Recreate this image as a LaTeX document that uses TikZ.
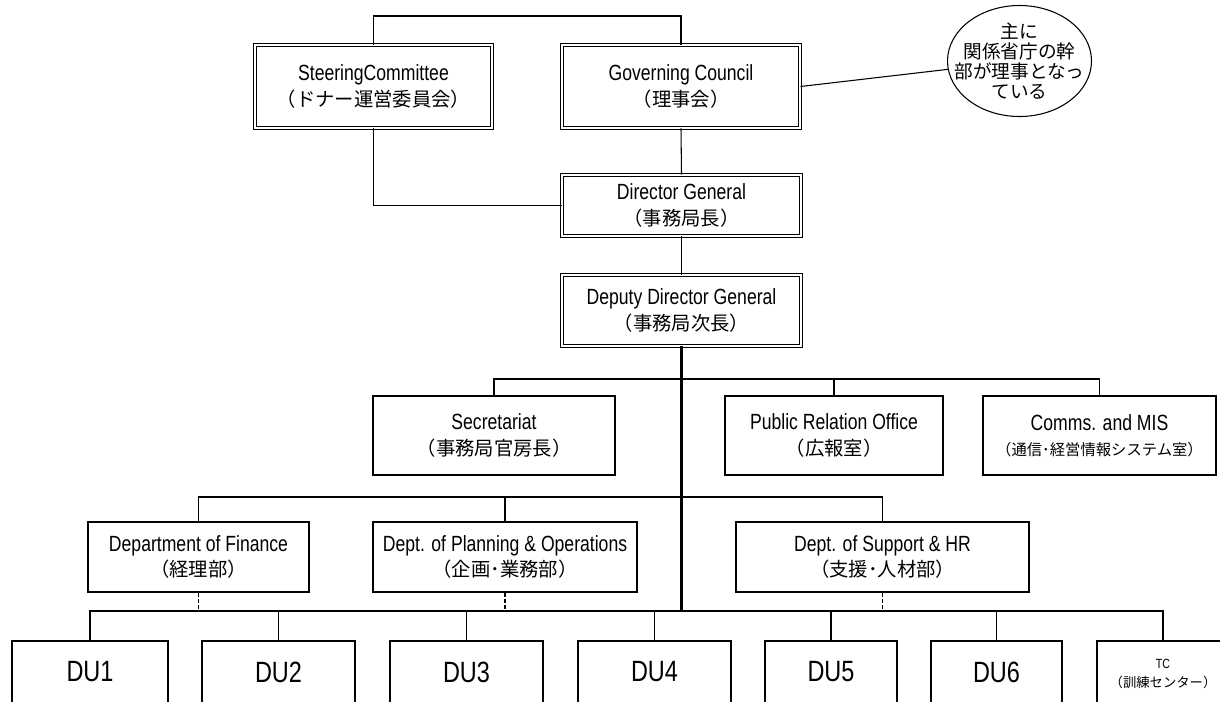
\documentclass[tikz,border=0pt]{standalone}
\usepackage{fontspec}
\setmainfont{Liberation Sans}[FakeStretch=0.8]
\newfontfamily\jp{Noto Sans CJK JP}
\usetikzlibrary{shapes.geometric}
\newcommand\jpt[1]{{\jp\fontsize{14.5}{19}\selectfont #1}}
\tikzset{
  conn/.style={line width=0.8pt},
  trunk/.style={line width=1.6pt},
  dashconn/.style={line width=0.8pt, dash pattern=on 3pt off 1.5pt},
  dbox/.style={draw, double, double distance=1.5pt, line width=0.7pt, inner sep=0pt, align=center,
    font=\fontsize{16.5}{19}\selectfont},
  sbox/.style={draw, line width=0.8pt, inner sep=0pt, align=center,
    font=\fontsize{16.5}{19}\selectfont},
  dubox/.style={draw, line width=0.8pt, inner sep=0pt, minimum height=75pt},
  dulabel/.style={label={[yshift=14.25pt, font=\fontsize{22}{26}\selectfont]center:#1}},
}
\begin{document}
\begin{tikzpicture}[x=0.75pt, y=-0.75pt]
\useasboundingbox (0,0) rectangle (1220,701);
\clip (0,0) rectangle (1220,701);

% top level
\node[dbox, minimum width=177.75pt, minimum height=62.25pt] (sc) at (373.5,86.5)
  {SteeringCommittee\\\jpt{（ドナー運営委員会）}};
\node[dbox, minimum width=178.5pt, minimum height=62.25pt] (gc) at (681,86.5)
  {Governing Council\\\jpt{（理事会）}};
\node[draw, ellipse, line width=0.8pt, inner sep=0pt, minimum width=108pt, minimum height=83.25pt] (note) at (1019.5,61) {};
\node[align=center, inner sep=0pt, font=\jp\fontsize{14}{14.8}\selectfont] (notetext) at (1019.5,61)
  {主に\\関係省庁の幹\\部が理事となっ\\ている};

\node[dbox, minimum width=179.25pt, minimum height=45.75pt] (dg) at (681.5,205.5)
  {Director General\\\jpt{（事務局長）}};
\node[dbox, minimum width=179.25pt, minimum height=53.25pt] (ddg) at (681.5,310.5)
  {Deputy Director General\\\jpt{（事務局次長）}};

% staff level
\node[sbox, minimum width=181.5pt, minimum height=59.25pt] (sec) at (494,435.5)
  {Secretariat\\\jpt{（事務局官房長）}};
\node[sbox, minimum width=163.5pt, minimum height=59.25pt] (pr) at (834,435.5)
  {Public Relation Office\\\jpt{（広報室）}};
\node[sbox, minimum width=174.75pt, minimum height=59.25pt] (comms) at (1099.5,435.5)
  {Comms. and MIS\\{\jp\fontsize{11.5}{17}\selectfont （通信･経営情報システム室）}};

% departments
\node[sbox, minimum width=165.75pt, minimum height=52.5pt] (fin) at (198.5,557)
  {Department of Finance\\\jpt{（経理部）}};
\node[sbox, minimum width=198pt, minimum height=52.5pt] (plan) at (505,557)
  {Dept. of Planning \& Operations\\\jpt{（企画･業務部）}};
\node[sbox, minimum width=219.75pt, minimum height=52.5pt] (sup) at (882.5,557)
  {Dept. of Support \& HR\\\jpt{（支援･人材部）}};

% DUs
\node[dubox, minimum width=117pt, dulabel=DU1] (du1) at (90,691) {};
\node[dubox, minimum width=114.75pt, dulabel=DU2] (du2) at (278.5,691) {};
\node[dubox, minimum width=114.75pt, dulabel=DU3] (du3) at (466.5,691) {};
\node[dubox, minimum width=114.75pt, dulabel=DU4] (du4) at (654.5,691) {};
\node[dubox, minimum width=99pt, dulabel=DU5] (du5) at (831,691) {};
\node[dubox, minimum width=98.25pt, dulabel=DU6] (du6) at (996.5,691) {};
\node[dubox, minimum width=99pt,
  label={[yshift=12.75pt, align=center, font=\fontsize{10}{14}\selectfont]center:TC\\{\jp\fontsize{10}{14}\selectfont （訓練センター）}}] (tc) at (1163,691) {};

% bus coordinates
\coordinate (topy) at (0,16);
\coordinate (b1) at (0,379);
\coordinate (b2) at (0,497);
\coordinate (b3) at (0,611);

% connectors
\draw[conn] (sc.north) -- (sc.north |- topy) -| (gc.north);
\draw[conn] (sc.south) |- (dg.west);
\draw[conn] (gc.south) -- (dg.north);
\draw[conn] (gc.east) -- (note);
\draw[conn] (dg.south) -- (ddg.north);
\draw[trunk] (ddg.south) -- (ddg.south |- b3);

\draw[conn] (sec.north) -- (sec.north |- b1) -| (comms.north);
\draw[conn] (pr.north) -- (pr.north |- b1);

\draw[conn] (fin.north) -- (fin.north |- b2) -| (sup.north);
\draw[conn] (plan.north) -- (plan.north |- b2);

\draw[dashconn] (fin.south) -- (fin.south |- b3);
\draw[dashconn] (plan.south) -- (plan.south |- b3);
\draw[dashconn] (sup.south) -- (sup.south |- b3);

\draw[conn] (du1.north) -- (du1.north |- b3) -- (du2.north |- b3);
\draw[trunk] (du2.north |- b3) -- (du6.north |- b3);
\draw[conn] (du6.north |- b3) -| (tc.north);
\draw[conn] (du2.north) -- (du2.north |- b3);
\draw[conn] (du3.north) -- (du3.north |- b3);
\draw[conn] (du4.north) -- (du4.north |- b3);
\draw[conn] (du5.north) -- (du5.north |- b3);
\draw[conn] (du6.north) -- (du6.north |- b3);
\end{tikzpicture}
\end{document}
